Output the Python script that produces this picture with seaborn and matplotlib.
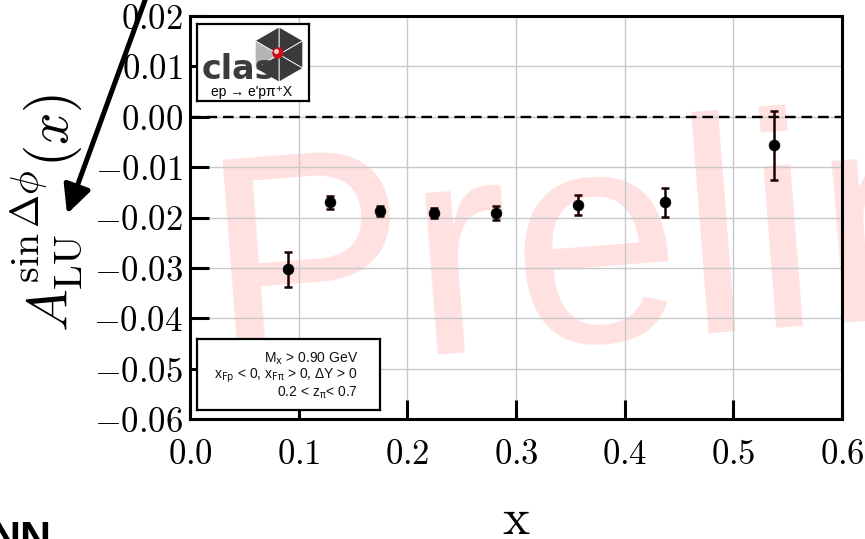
import numpy as np
import matplotlib
matplotlib.use("Agg")
import matplotlib.pyplot as plt
import seaborn as sns
import pandas as pd
from matplotlib.patches import Polygon, Circle, FancyArrowPatch

# ---------------- data ----------------
x_vals = [0.0904, 0.1288, 0.1748, 0.2248, 0.2815, 0.3567, 0.4370, 0.5375]
asym = [-0.0303, -0.0170, -0.01875, -0.0191, -0.0191, -0.0176, -0.0170, -0.0057]
asym_err = [0.0035, 0.00125, 0.0010, 0.0010, 0.0013, 0.0020, 0.0029, 0.0069]

x_ticks = [0.0, 0.1, 0.2, 0.3, 0.4, 0.5, 0.6]
x_tick_labels = [r"$0.0$", r"$0.1$", r"$0.2$", r"$0.3$", r"$0.4$", r"$0.5$", r"$0.6$"]
y_ticks = [0.02, 0.01, 0.0, -0.01, -0.02, -0.03, -0.04, -0.05, -0.06]
y_tick_labels = [r"$0.02$", r"$0.01$", r"$0.00$", r"$-0.01$", r"$-0.02$",
                 r"$-0.03$", r"$-0.04$", r"$-0.05$", r"$-0.06$"]

y_label = r"$A_{\rm LU}^{\sin\Delta\phi}(x)$"
x_label = r"$\mathrm{x}$"
cut_lines = [r"M$_{\mathrm{x}}$ > 0.90 GeV",
             r"x$_{\mathrm{Fp}}$ < 0, x$_{\mathrm{F\pi}}$ > 0, ΔY > 0",
             r"0.2 < z$_{\mathrm{\pi}}$< 0.7"]
reaction = "ep → e'pπ⁺X"
logo_word = "clas"
watermark = "Preliminary"
corner_text = "NN"

# ---------------- style ----------------
sns.set_theme(style="whitegrid")
plt.rcParams['mathtext.fontset'] = 'cm'
plt.rcParams['font.family'] = ['Liberation Sans', 'DejaVu Sans']

W, H = 865, 539
fig = plt.figure(figsize=(W / 100, H / 100), dpi=100)
fig.patch.set_facecolor('white')


def fx(px):
    return px / W


def fy(py):
    return 1 - py / H


ax = fig.add_axes([fx(190), fy(419), fx(842) - fx(190), fy(16) - fy(419)])
ax.set_facecolor('none')

# watermark behind everything
fig.text(fx(214), fy(370), watermark, fontsize=220, color=(1, 0, 0, 0.12),
         rotation=4.5, rotation_mode='anchor', ha='left', va='baseline',
         family='Liberation Sans', zorder=-1)

df = pd.DataFrame({"x": x_vals, "A": asym, "err": asym_err})
ax.axhline(0.0, color='black', lw=1.7, ls=(0, (4.5, 2.5)), zorder=3)
ax.errorbar(df["x"], df["A"], yerr=df["err"], fmt='none', ecolor='#1a0000',
            elinewidth=1.8, capsize=2.8, capthick=1.8, zorder=4)
sns.scatterplot(data=df, x="x", y="A", ax=ax, color='black', s=60,
                edgecolor='black', linewidth=0.5, zorder=5, legend=False)

ax.set_xlim(0.0, 0.6)
ax.set_ylim(-0.06, 0.02)
ax.set_xticks(x_ticks)
ax.set_xticklabels(x_tick_labels)
ax.set_yticks(y_ticks)
ax.set_yticklabels(y_tick_labels)
ax.set_xlabel("")
ax.set_ylabel("")
ax.grid(True, color='#c8c8c8', lw=1.0)
ax.tick_params(axis='both', direction='in', length=14, width=2.2, colors='black',
               labelsize=25, bottom=True, left=True, top=False, right=False)
ax.tick_params(axis='x', pad=14)
ax.tick_params(axis='y', pad=5)
for s in ax.spines.values():
    s.set_visible(True)
    s.set_color('black')
    s.set_linewidth(2.2)

fig.text(fx(47), fy(213), y_label, fontsize=41, rotation=90,
         ha='center', va='center', color='black')
fig.text(fx(516), fy(520), x_label, fontsize=37, ha='center', va='center',
         color='black')

# ---------------- CLAS logo box ----------------
lax = fig.add_axes([fx(197), fy(101), fx(309) - fx(197), fy(24) - fy(101)], zorder=2)
lax.set_xlim(0, 112)
lax.set_ylim(0, 77)
lax.set_xticks([])
lax.set_yticks([])
lax.grid(False)
lax.set_facecolor('white')
for s in lax.spines.values():
    s.set_visible(True)
    s.set_color('black')
    s.set_linewidth(1.6)

cx, cy, r = 82.0, 46.5, 27.5
angles = np.deg2rad([90, 30, -30, -90, -150, 150])
verts = [(cx + r * np.cos(a), cy + r * np.sin(a)) for a in angles]
for i in range(6):
    v1 = verts[i]
    v2 = verts[(i + 1) % 6]
    col = '#b4b4b4' if i == 4 else '#3a3a3a'
    lax.add_patch(Polygon([(cx, cy), v1, v2], closed=True, facecolor=col,
                          edgecolor='white', lw=0.6))
lax.text(5, 22, logo_word, fontsize=24, fontweight='bold', color='#3c3c3c',
         family='DejaVu Sans', ha='left', va='baseline')
lax.add_patch(Circle((81, 48), 5, color='#cc0d1e', zorder=5))
lax.add_patch(Circle((79.5, 49.5), 1.8, color='white', alpha=0.7, zorder=6))
lax.text(55, 5, reaction, fontsize=10, ha='center', va='baseline', color='black')

# ---------------- cuts box ----------------
cax = fig.add_axes([fx(197), fy(410), fx(380) - fx(197), fy(339) - fy(410)], zorder=2)
cax.set_xlim(0, 183)
cax.set_ylim(0, 71)
cax.set_xticks([])
cax.set_yticks([])
cax.grid(False)
cax.set_facecolor('white')
for s in cax.spines.values():
    s.set_visible(True)
    s.set_color('black')
    s.set_linewidth(1.6)
for line, yb in zip(cut_lines, [47, 31, 13]):
    cax.text(161, yb, line, fontsize=10, ha='right', va='baseline', color='#111111',
             math_fontfamily='dejavusans')

# ---------------- arrow & corner text ----------------
arrow = FancyArrowPatch((fx(148), fy(-8)), (fx(67), fy(214)),
                        transform=fig.transFigure,
                        arrowstyle='-|>,head_length=0.45,head_width=0.22',
                        mutation_scale=38, color='black', lw=3.6,
                        shrinkA=0, shrinkB=0)
fig.add_artist(arrow)

fig.text(fx(-11), fy(551), corner_text, fontsize=31, fontweight='bold',
         family='Liberation Sans', va='baseline', ha='left', color='black')

fig.savefig('out.png', dpi=100)
